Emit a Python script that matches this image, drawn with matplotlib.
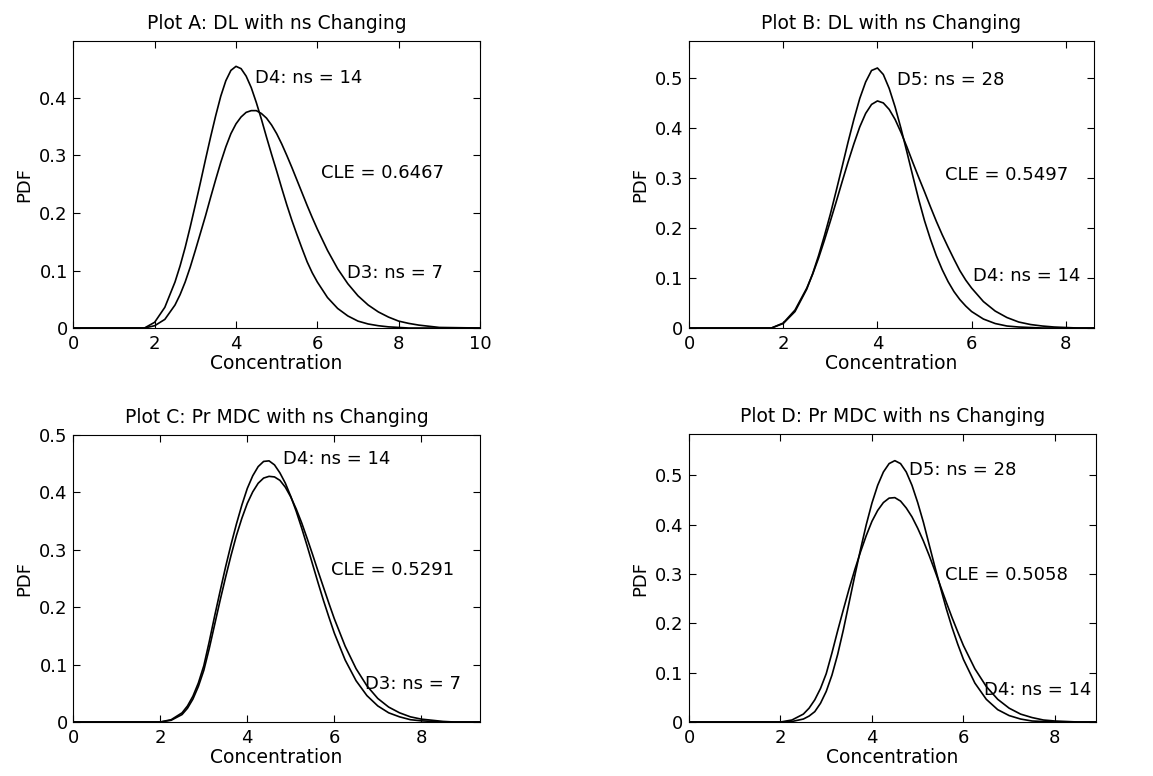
import matplotlib
matplotlib.use("Agg")
import matplotlib.pyplot as plt
from matplotlib.ticker import FormatStrFormatter

# concentration grid the curves were read at (finer around the peaks)
conc = [0.0, 1.5, 1.75, 2.0, 2.25,
        2.5, 2.625, 2.75, 2.875, 3.0, 3.125, 3.25, 3.375, 3.5, 3.625, 3.75, 3.875,
        4.0, 4.125, 4.25, 4.375, 4.5, 4.625, 4.75, 4.875, 5.0, 5.125, 5.25, 5.375,
        5.5, 5.625, 5.75, 5.875, 6.0,
        6.25, 6.5, 6.75, 7.0, 7.25, 7.5, 7.75, 8.0, 8.25, 8.5, 8.75, 9.0, 10.0]

# DL curves
dl_ns7 = [0, 0, 0, 0.004, 0.015,
          0.040, 0.058, 0.080, 0.106, 0.135, 0.165, 0.195, 0.227, 0.258, 0.288, 0.315, 0.338,
          0.355, 0.367, 0.375, 0.378, 0.378, 0.373, 0.365, 0.353, 0.338, 0.320, 0.300, 0.279,
          0.257, 0.235, 0.213, 0.192, 0.172,
          0.135, 0.103, 0.077, 0.056, 0.040, 0.028, 0.019, 0.012, 0.008, 0.005, 0.003, 0.001, 0]
dl_ns14 = [0, 0, 0, 0.010, 0.036,
           0.080, 0.108, 0.140, 0.176, 0.214, 0.253, 0.293, 0.332, 0.369, 0.403, 0.430, 0.448,
           0.455, 0.451, 0.438, 0.418, 0.392, 0.363, 0.332, 0.302, 0.273, 0.243, 0.214, 0.187,
           0.162, 0.138, 0.115, 0.096, 0.080,
           0.053, 0.034, 0.021, 0.012, 0.007, 0.004, 0.002, 0.001, 0, 0, 0, 0, 0]
dl_ns28 = [0, 0, 0, 0.009, 0.033,
           0.078, 0.109, 0.145, 0.185, 0.228, 0.275, 0.323, 0.372, 0.418, 0.460, 0.493, 0.516,
           0.521, 0.508, 0.480, 0.443, 0.400, 0.353, 0.305, 0.258, 0.215, 0.178, 0.145, 0.117,
           0.093, 0.073, 0.057, 0.044, 0.033,
           0.018, 0.009, 0.004, 0.002, 0.001, 0, 0, 0, 0, 0, 0, 0, 0]

# Pr MDC curves
mdc_ns7 = [0, 0, 0, 0.000, 0.003,
           0.013, 0.024, 0.040, 0.062, 0.090, 0.128, 0.170, 0.212, 0.252, 0.290, 0.325, 0.355,
           0.381, 0.401, 0.416, 0.425, 0.428, 0.427, 0.421, 0.409, 0.392, 0.371, 0.347, 0.320,
           0.292, 0.263, 0.235, 0.207, 0.180,
           0.132, 0.093, 0.063, 0.041, 0.026, 0.016, 0.009, 0.005, 0.003, 0.001, 0, 0, 0]
mdc_ns14 = [0, 0, 0, 0.000, 0.004,
            0.016, 0.028, 0.045, 0.068, 0.098, 0.140, 0.185, 0.228, 0.270, 0.309, 0.345, 0.378,
            0.407, 0.429, 0.445, 0.454, 0.455, 0.448, 0.434, 0.416, 0.393, 0.367, 0.338, 0.307,
            0.275, 0.243, 0.212, 0.183, 0.155,
            0.108, 0.072, 0.046, 0.028, 0.016, 0.009, 0.004, 0.002, 0.001, 0, 0, 0, 0]
mdc_ns28 = [0, 0, 0, 0.000, 0.001,
            0.006, 0.012, 0.021, 0.038, 0.062, 0.095, 0.137, 0.187, 0.242, 0.297, 0.350, 0.400,
            0.444, 0.480, 0.507, 0.524, 0.530, 0.524, 0.507, 0.480, 0.445, 0.405, 0.360, 0.315,
            0.272, 0.230, 0.192, 0.158, 0.127,
            0.079, 0.046, 0.025, 0.013, 0.006, 0.002, 0.001, 0, 0, 0, 0, 0, 0]

titles = ["Plot A: DL with ns Changing", "Plot B: DL with ns Changing",
          "Plot C: Pr MDC with ns Changing", "Plot D: Pr MDC with ns Changing"]
cle = ["CLE = 0.6467", "CLE = 0.5497", "CLE = 0.5291", "CLE = 0.5058"]
upper_lbl = ["D4: ns = 14", "D5: ns = 28", "D4: ns = 14", "D5: ns = 28"]
lower_lbl = ["D3: ns = 7", "D4: ns = 14", "D3: ns = 7", "D4: ns = 14"]

plt.rcParams['font.family'] = 'DejaVu Sans'
plt.rcParams['font.size'] = 13

fig = plt.figure(figsize=(11.53, 7.76), dpi=100)

panels = [
    # rect, curves, xmax, ymax, label positions (upper, cle, lower)
    ([0.0636, 0.5773, 0.3527, 0.3698], (dl_ns14, dl_ns7), 10.0, 0.499,
     [(4.47, 0.434), (6.1, 0.27), (6.72, 0.096)]),
    ([0.5976, 0.5773, 0.3513, 0.3698], (dl_ns28, dl_ns14), 8.6, 0.575,
     [(4.42, 0.496), (5.43, 0.306), (6.02, 0.1035)]),
    ([0.0636, 0.0696, 0.3527, 0.3698], (mdc_ns14, mdc_ns7), 9.35, 0.5,
     [(4.82, 0.459), (5.93, 0.265), (6.7, 0.067)]),
    ([0.5976, 0.0696, 0.3530, 0.3711], (mdc_ns28, mdc_ns14), 8.9, 0.584,
     [(4.81, 0.512), (5.6, 0.298), (6.45, 0.064)]),
]

for i, (rect, curves, xmax, ymax, pos) in enumerate(panels):
    ax = fig.add_axes(rect)
    for c in curves:
        ax.plot(conc, c, color='k', lw=1.2)
    ax.set_xlim(0, xmax)
    ax.set_ylim(0, ymax)
    ax.set_xticks([t for t in [0, 2, 4, 6, 8, 10] if t <= xmax])
    ax.set_yticks([t for t in [0, 0.1, 0.2, 0.3, 0.4, 0.5] if t <= ymax])
    ax.yaxis.set_major_formatter(FormatStrFormatter('%g'))
    ax.xaxis.set_major_formatter(FormatStrFormatter('%g'))
    ax.tick_params(direction='in', top=True, right=True, length=5, width=0.8,
                   labelsize=13)
    ax.tick_params(axis='x', pad=5)
    ax.tick_params(axis='y', pad=4)
    for s in ax.spines.values():
        s.set_linewidth(0.8)
    ax.set_title(titles[i], fontsize=13.5, pad=9)
    ax.set_xlabel('Concentration', fontsize=13.5, labelpad=1)
    ax.set_ylabel('PDF', fontsize=13, labelpad=4)
    ax.text(pos[0][0], pos[0][1], upper_lbl[i], va='center', ha='left', fontsize=13)
    ax.text(pos[1][0], pos[1][1], cle[i], va='center', ha='left', fontsize=13)
    ax.text(pos[2][0], pos[2][1], lower_lbl[i], va='center', ha='left', fontsize=13)

fig.savefig('out.png', dpi=100)
